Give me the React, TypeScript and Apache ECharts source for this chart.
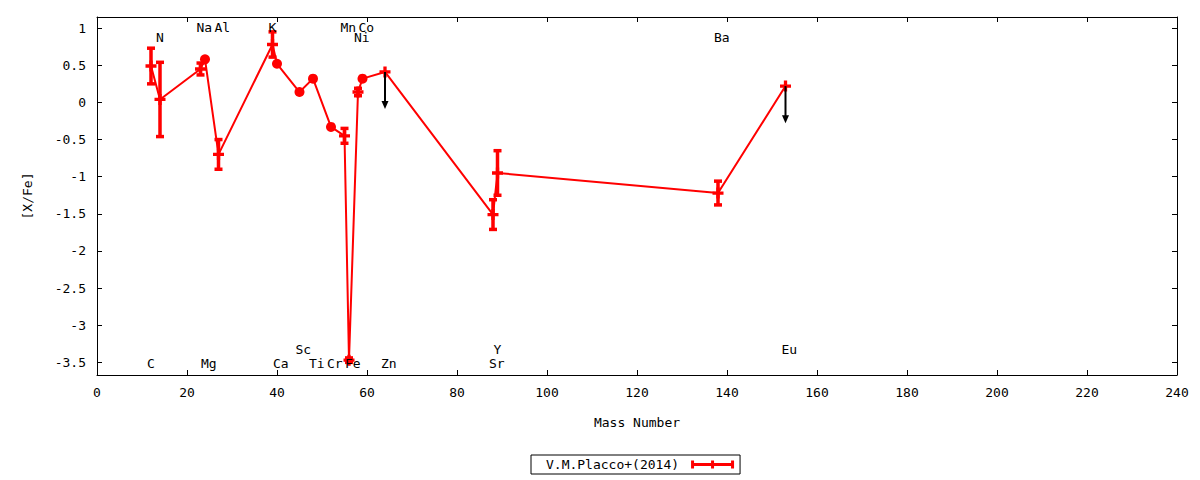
import React, { useEffect, useRef } from 'react';
import * as echarts from 'echarts';

// ---- data ----
const elements = ['C', 'N', 'Na', 'Mg', 'Al', 'K', 'Ca', 'Sc', 'Ti', 'Cr', 'Mn', 'Fe', 'Ni', 'Co', 'Zn', 'Sr', 'Y', 'Ba', 'Eu'];
const massNumbers = [12, 14, 23, 24, 27, 39, 40, 45, 48, 52, 55, 56, 58, 59, 64, 88, 89, 138, 153];
const xFe = [0.49, 0.04, 0.45, 0.58, -0.70, 0.78, 0.52, 0.14, 0.32, -0.33, -0.45, -3.47, 0.14, 0.32, 0.41, -1.51, -0.95, -1.22, 0.22];
const xFeErr = [0.24, 0.50, 0.08, 0, 0.20, 0.17, 0, 0, 0, 0, 0.10, 0.03, 0.05, 0, 0, 0.20, 0.30, 0.16, 0];
const upperLimit = [false, false, false, false, false, false, false, false, false, false, false, false, false, false, true, false, false, false, true];
// label row: 1/2 = top rows, -1/-2 = bottom rows
const labelRows = [-1, 2, 1, -1, 1, 1, -1, -2, -1, -1, 1, -1, 2, 1, -1, -1, -2, 2, -2];
const rowValues: Record<string, number> = { '1': 1.01, '2': 0.87, '-1': -3.52, '-2': -3.33 };
const yTicks = [-3.5, -3, -2.5, -2, -1.5, -1, -0.5, 0, 0.5, 1];
const X_MIN = 0, X_MAX = 240, X_STEP = 20;
const Y_MIN = -3.67, Y_MAX = 1.15;
const LIMIT_ARROW = 0.5;
const SERIES_NAME = 'V.M.Placco+(2014)';

const FONT = '"DejaVu Sans Mono", "Liberation Mono", monospace';
const RED = '#ff0000';
const PLUS = 'path://M0,7H20V13H0Z M7,0H13V20H7Z';
const LEGEND_ICON = 'path://M0,2.5H43V5.5H0Z M0,0H3V8H0Z M40,0H43V8H40Z M20,0H23V8H20Z';

export default function App() {
  const ref = useRef<HTMLDivElement>(null);
  useEffect(() => {
    const chart = echarts.init(ref.current!, null, { renderer: 'svg' });

    const lineData = massNumbers.map((m, i) => {
      const plus = xFeErr[i] > 0 || upperLimit[i];
      return { value: [m, xFe[i]], symbol: plus ? PLUS : 'circle', symbolSize: plus ? 11 : 10 };
    });
    const errData = massNumbers
      .map((m, i) => [m, xFe[i], xFeErr[i]])
      .filter((d) => d[2] > 0);
    const limitData = massNumbers
      .map((m, i) => [m, xFe[i], upperLimit[i] ? 1 : 0])
      .filter((d) => d[2] === 1)
      .map((d) => [d[0], d[1]]);
    const labelData = massNumbers.map((m, i) => [m, rowValues[String(labelRows[i])]]);

    const axisCommon = {
      axisLine: { show: true, onZero: false, lineStyle: { color: '#000', width: 1 } },
      splitLine: { show: false },
    };

    const option: any = {
      animation: false,
      backgroundColor: '#fff',
      grid: { left: 97, right: 23, top: 17, bottom: 105, containLabel: false },
      legend: {
        data: [{ name: SERIES_NAME, icon: LEGEND_ICON }],
        left: 531,
        top: 455,
        align: 'right',
        itemWidth: 43,
        itemHeight: 8,
        padding: [3, 6, 3, 15],
        borderColor: '#000',
        borderWidth: 1,
        borderRadius: 0,
        selectedMode: false,
        textStyle: { color: '#000', fontFamily: FONT, fontSize: 13, padding: [0, 7, 0, 0] },
      },
      xAxis: [
        {
          type: 'value', min: X_MIN, max: X_MAX, interval: X_STEP, position: 'bottom',
          ...axisCommon,
          axisTick: { show: true, inside: true, length: 5, lineStyle: { color: '#000' } },
          axisLabel: { color: '#000', fontFamily: FONT, fontSize: 13, margin: 11 },
          name: 'Mass Number', nameLocation: 'middle', nameGap: 41,
          nameTextStyle: { color: '#000', fontFamily: FONT, fontSize: 13 },
        },
        {
          type: 'value', min: X_MIN, max: X_MAX, interval: X_STEP, position: 'top',
          ...axisCommon,
          axisTick: { show: true, inside: true, length: 5, lineStyle: { color: '#000' } },
          axisLabel: { show: false },
        },
      ],
      yAxis: [
        {
          type: 'value', min: Y_MIN, max: Y_MAX, position: 'left',
          ...axisCommon,
          axisTick: { show: true, inside: true, length: 5, customValues: yTicks, lineStyle: { color: '#000' } },
          axisLabel: { color: '#000', fontFamily: FONT, fontSize: 13, margin: 11, customValues: yTicks },
          name: '[X/Fe]', nameLocation: 'middle', nameGap: 63, nameRotate: 90,
          nameTextStyle: { color: '#000', fontFamily: FONT, fontSize: 13 },
        },
        {
          type: 'value', min: Y_MIN, max: Y_MAX, position: 'right',
          ...axisCommon,
          axisTick: { show: true, inside: true, length: 5, customValues: yTicks, lineStyle: { color: '#000' } },
          axisLabel: { show: false },
        },
      ],
      series: [
        {
          type: 'custom',
          name: 'errors',
          xAxisIndex: 0, yAxisIndex: 0,
          silent: true,
          z: 2,
          encode: { x: 0, y: 1 },
          data: errData,
          renderItem: (params: any, api: any) => {
            const x = api.value(0), v = api.value(1), e = api.value(2);
            const hi = api.coord([x, v + e]);
            const lo = api.coord([x, v - e]);
            const cap = 4;
            const st = { stroke: RED, lineWidth: 3.5 };
            return {
              type: 'group',
              children: [
                { type: 'line', shape: { x1: hi[0], y1: hi[1], x2: lo[0], y2: lo[1] }, style: st },
                { type: 'line', shape: { x1: hi[0] - cap, y1: hi[1], x2: hi[0] + cap, y2: hi[1] }, style: { stroke: RED, lineWidth: 3.5 } },
                { type: 'line', shape: { x1: lo[0] - cap, y1: lo[1], x2: lo[0] + cap, y2: lo[1] }, style: { stroke: RED, lineWidth: 3.5 } },
              ],
            };
          },
        },
        {
          type: 'line',
          name: SERIES_NAME,
          xAxisIndex: 0, yAxisIndex: 0,
          data: lineData,
          z: 3,
          lineStyle: { color: RED, width: 2 },
          itemStyle: { color: RED },
        },
        {
          type: 'custom',
          name: 'limits',
          xAxisIndex: 0, yAxisIndex: 0,
          silent: true,
          z: 4,
          encode: { x: 0, y: 1 },
          data: limitData,
          renderItem: (params: any, api: any) => {
            const x = api.value(0), v = api.value(1);
            const top = api.coord([x, v]);
            const tip = api.coord([x, v - LIMIT_ARROW]);
            const headH = 8, headW = 3.5;
            return {
              type: 'group',
              children: [
                { type: 'line', shape: { x1: top[0], y1: top[1], x2: tip[0], y2: tip[1] - headH + 1 }, style: { stroke: '#000', lineWidth: 2 } },
                {
                  type: 'polygon',
                  shape: { points: [[tip[0] - headW, tip[1] - headH], [tip[0] + headW, tip[1] - headH], [tip[0], tip[1]]] },
                  style: { fill: '#000' },
                },
              ],
            };
          },
        },
        {
          type: 'custom',
          name: 'labels',
          xAxisIndex: 0, yAxisIndex: 0,
          silent: true,
          z: 5,
          encode: { x: 0, y: 1 },
          data: labelData,
          renderItem: (params: any, api: any) => {
            const p = api.coord([api.value(0), api.value(1)]);
            return {
              type: 'text',
              x: p[0] - 4,
              y: p[1],
              style: {
                text: elements[params.dataIndex],
                fill: '#000',
                fontFamily: FONT,
                fontSize: 13,
                align: 'left',
                textAlign: 'left',
                verticalAlign: 'middle',
                textVerticalAlign: 'middle',
              },
            };
          },
        },
      ],
    };

    chart.setOption(option);
    return () => chart.dispose();
  }, []);

  return (
    <div
      ref={ref}
      style={{ position: 'absolute', left: 0, top: 0, width: 1200, height: 480, background: '#fff' }}
    />
  );
}
